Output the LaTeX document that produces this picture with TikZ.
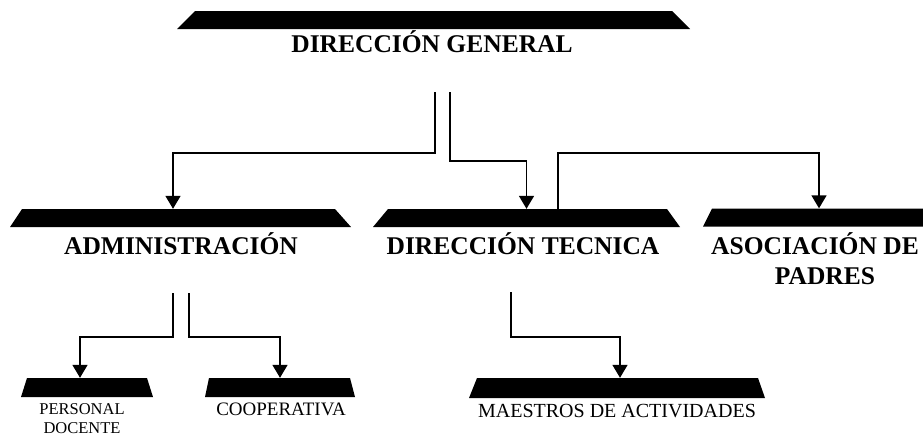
\documentclass[tikz,border=0pt]{standalone}
\usepackage{fontspec}
\setmainfont{Liberation Serif}
\usetikzlibrary{arrows.meta}

\begin{document}
\begin{tikzpicture}[x=1pt,y=-1pt,
		bar/.style 2 args={rectangle, inner sep=0pt, minimum height=18, path picture={
			\fill ([xshift=#1]path picture bounding box.north west) -- ([xshift=-#2]path picture bounding box.north east)
				-- (path picture bounding box.south east) -- (path picture bounding box.south west) -- cycle;}},
		big/.style={anchor=base, inner sep=0pt, font=\fontsize{25.5}{30}\selectfont\bfseries},
		small/.style={anchor=base, inner sep=0pt, font=\fontsize{16.5}{15}\selectfont},
		link/.style={line width=1.6pt, -{Triangle[width=15pt,length=13pt]}}]
		\useasboundingbox (0,0) rectangle (923,437);

		 	\node[bar={18}{18}, minimum width=513] (gen) at (433.5,20){};
		 	\node[big] (gen-t) at (432,52){DIRECCIÓN GENERAL};

		 	\node[bar={12}{16}, minimum width=341] (adm) at (180.5,218){};
		 	\node[big] (adm-t) at (181,254){ADMINISTRACIÓN};
		 	\node[bar={15}{13}, minimum width=307] (dtec) at (526.5,218){};
		 	\node[big] (dtec-t) at (523,254){DIRECCIÓN TECNICA};
		 	\node[bar={9}{9}, minimum width=232] (asoc) at (819,217.5){};
		 	\node[big] (asoc-t1) at (815,254){ASOCIACIÓN DE};
		 	\node[big] (asoc-t2) at (825,284){PADRES};

		 	\node[bar={6}{6}, minimum width=132, minimum height=19] (pers) at (87,387.5){};
		 	\node[small] (pers-t1) at (82,414){PERSONAL};
		 	\node[small] (pers-t2) at (82,433){DOCENTE};
		 	\node[bar={4}{5}, minimum width=150, minimum height=19] (coop) at (280,387.5){};
		 	\node[small, font=\fontsize{19}{22}\selectfont] (coop-t) at (281,415){COOPERATIVA};
		 	\node[bar={8}{7}, minimum width=296, minimum height=20] (maes) at (617,388){};
		 	\node[small, font=\fontsize{20}{24}\selectfont] (maes-t) at (617,417){MAESTROS DE ACTIVIDADES};

		 	\coordinate (g1) at (435,92);
		 	\coordinate (g2) at (450,92);
		 	\coordinate (a1) at (173,293);
		 	\coordinate (a2) at (189,293);
		 	\coordinate (t1) at (511,292);

		 	\draw[link] (g1) -- ++(0,61) -| ([xshift=-7.5]adm.north);
		 	\draw[link] (g2) -- ++(0,69) -| (dtec.north);
		 	\draw[link] ([xshift=31.5]dtec.north) -- ++(0,-56) -| (asoc.north);
		 	\draw[link] (a1) -- ++(0,44) -| ([xshift=-7]pers.north);
		 	\draw[link] (a2) -- ++(0,44) -| (coop.north);
		 	\draw[link] (t1) -- ++(0,45) -| ([xshift=3]maes.north);

\end{tikzpicture}
\end{document}
